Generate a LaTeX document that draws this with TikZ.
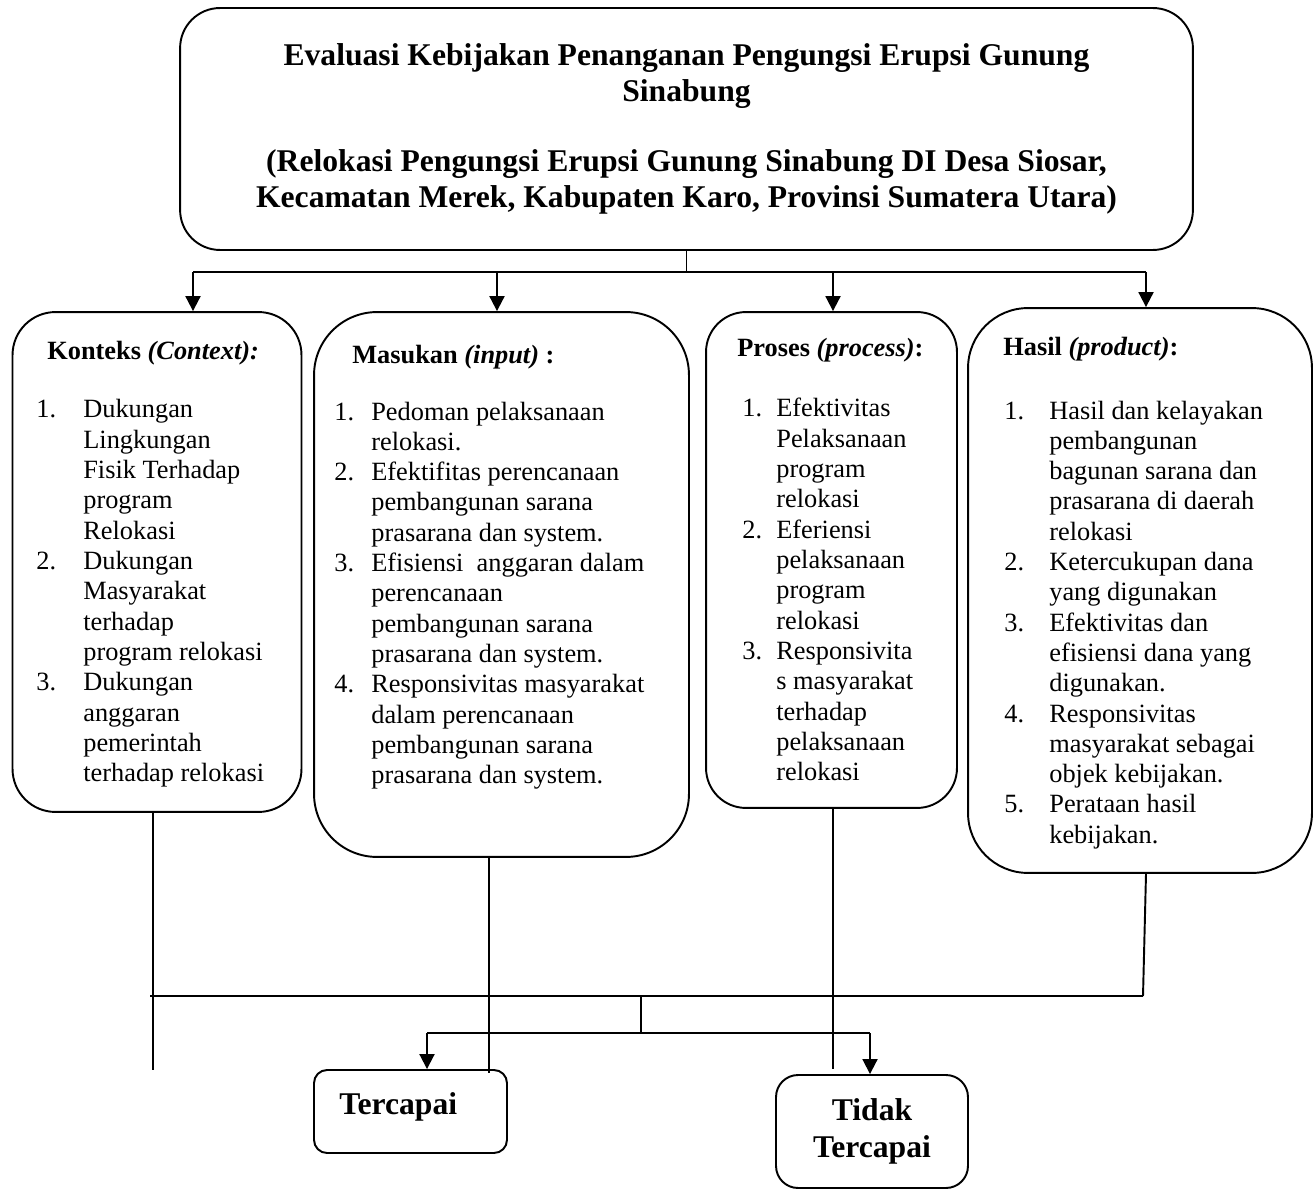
\documentclass[tikz,border=0pt]{standalone}
\usepackage{fontspec}
\setmainfont{Liberation Serif}
\usepackage{tikz}
\usetikzlibrary{arrows.meta, positioning}

\tikzset{
  box/.style={draw, line width=1.1pt, rounded corners=#1, inner sep=0pt},
  box/.default=0.8cm,
  head/.style={anchor=base west, inner sep=0pt, font=\fontsize{15}{17.25}\selectfont\bfseries},
  lst/.style={anchor=base west, inner sep=0pt, font=\fontsize{15}{17.25}\selectfont},
  big/.style={font=\fontsize{18}{20.7}\selectfont\bfseries, align=center},
  arr/.style={-{Triangle[length=0.3cm,width=0.3cm]}, line width=1.1pt},
  ln/.style={line width=1.1pt}
}

\begin{document}
\begin{tikzpicture}[x=0.02cm, y=-0.02cm]
\useasboundingbox (0,0) rectangle (1315,1189);

\node[box, minimum width=20.26cm, minimum height=4.84cm,
      font=\fontsize{18}{20.1}\selectfont\bfseries, align=center] (ttl) at (686.5,129)
  {Evaluasi Kebijakan Penanganan Pengungsi Erupsi Gunung\\Sinabung\\[20.1pt]
   (Relokasi Pengungsi Erupsi Gunung Sinabung DI Desa Siosar,\\
   Kecamatan Merek, Kabupaten Karo, Provinsi Sumatera Utara)};

% kotak komponen
\node[box=0.86cm, minimum width=5.78cm, minimum height=10cm] (ctx) at (157,562) {};
\node[box=1.26cm, minimum width=7.5cm, minimum height=10.9cm] (inp) at (501.5,584.5) {};
\node[box=0.8cm, minimum width=5.02cm, minimum height=9.92cm] (prc) at (831.5,560) {};
\node[box=1.2cm, minimum width=6.88cm, minimum height=11.3cm] (prd) at (1140,590.5) {};

\node[head] (ctxh) at (47,360) {Konteks \textit{(Context):}};
\node[head] (inph) at (352,364) {Masukan \textit{(input)} :};
\node[head] (prch) at (737,357) {Proses \textit{(process)}:};
\node[head] (prdh) at (1003,356) {Hasil \textit{(product)}:};

\node[lst] (ctxl) at (36,418) {\begin{tabular}[t]{@{}p{0.94cm}@{}l@{}}
1. & Dukungan\\ & Lingkungan\\ & Fisik Terhadap\\ & program\\ & Relokasi\\
2. & Dukungan\\ & Masyarakat\\ & terhadap\\ & program relokasi\\
3. & Dukungan\\ & anggaran\\ & pemerintah\\ & terhadap relokasi
\end{tabular}};
\node[lst] (inpl) at (334,420) {\begin{tabular}[t]{@{}p{0.74cm}@{}l@{}}
1. & Pedoman pelaksanaan\\ & relokasi.\\
2. & Efektifitas perencanaan\\ & pembangunan sarana\\ & prasarana dan system.\\
3. & Efisiensi\ \ anggaran dalam\\ & perencanaan\\ & pembangunan sarana\\ & prasarana dan system.\\
4. & Responsivitas masyarakat\\ & dalam perencanaan\\ & pembangunan sarana\\ & prasarana dan system.
\end{tabular}};
\node[lst] (prcl) at (742,417) {\begin{tabular}[t]{@{}p{0.68cm}@{}l@{}}
1. & Efektivitas\\ & Pelaksanaan\\ & program\\ & relokasi\\
2. & Eferiensi\\ & pelaksanaan\\ & program\\ & relokasi\\
3. & Responsivita\\ & s masyarakat\\ & terhadap\\ & pelaksanaan\\ & relokasi
\end{tabular}};
\node[lst] (prdl) at (1004,419) {\begin{tabular}[t]{@{}p{0.9cm}@{}l@{}}
1. & Hasil dan kelayakan\\ & pembangunan\\ & bagunan sarana dan\\ & prasarana di daerah\\ & relokasi\\
2. & Ketercukupan dana\\ & yang digunakan\\
3. & Efektivitas dan\\ & efisiensi dana yang\\ & digunakan.\\
4. & Responsivitas\\ & masyarakat sebagai\\ & objek kebijakan.\\
5. & Perataan hasil\\ & kebijakan.
\end{tabular}};

% hasil akhir
\node[box=0.26cm, minimum width=3.86cm, minimum height=1.66cm] (ok) at (410.5,1111.5) {};
\node[big, anchor=base west, inner sep=0pt] (oktxt) at (339,1114) {Tercapai};
\node[box=0.44cm, minimum width=3.84cm, minimum height=2.26cm, big] (nok) at (872,1131.5)
  {Tidak\\Tercapai};

% garis atas
\coordinate (b1) at (193,272);
\coordinate (b2) at (497,272);
\coordinate (b3) at (833,272);
\coordinate (b4) at (1146,272);
\draw[ln] (ttl.south) -- (ttl.south |- b1);
\draw[ln] (b1) -- (b4);
\draw[arr] (b1) -- (b1 |- ctx.north);
\draw[arr] (b2) -- (b2 |- inp.north);
\draw[arr] (b3) -- (b3 |- prc.north);
\draw[arr] (b4) -- (b4 |- prd.north);

% garis bawah
\coordinate (e1) at (153,1070);
\coordinate (e2) at (489,1073);
\coordinate (e3) at (833,1069);
\coordinate (h1) at (150,996);
\coordinate (h2) at (1143,996);
\coordinate (s1) at (641,996);
\coordinate (s2) at (641,1033);
\coordinate (t1) at (427,1033);
\coordinate (t2) at (870,1033);
\draw[ln] (ctx.south -| e1) -- (e1);
\draw[ln] (inp.south -| e2) -- (e2);
\draw[ln] (prc.south -| e3) -- (e3);
\draw[ln] ([xshift=0.12cm]prd.south) -- (h2);
\draw[ln] (h1) -- (h2);
\draw[ln] (s1) -- (s2);
\draw[ln] (t1) -- (t2);
\draw[arr] (t1) -- (t1 |- ok.north);
\draw[arr] (t2) -- (t2 |- nok.north);
\end{tikzpicture}
\end{document}
